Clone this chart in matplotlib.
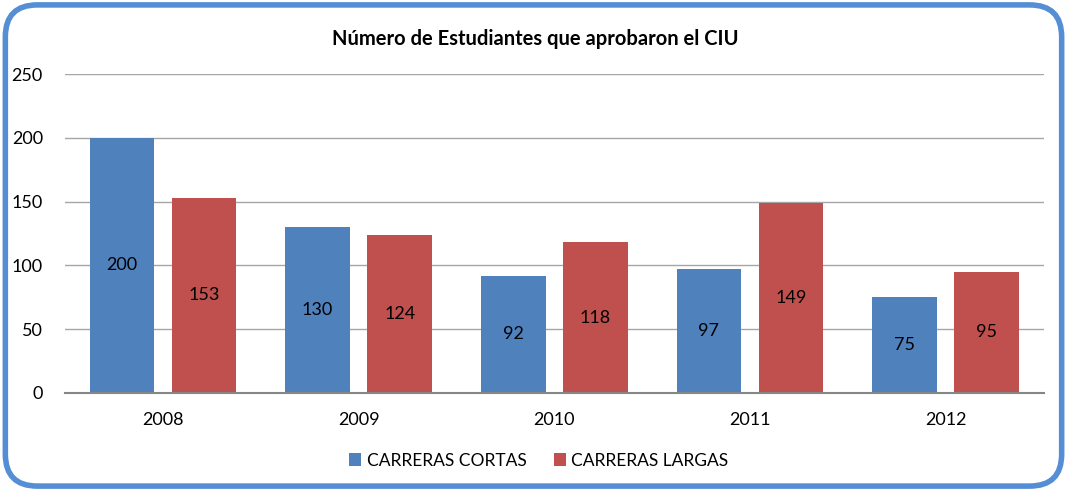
import matplotlib.pyplot as plt
import numpy as np
from matplotlib.patches import FancyBboxPatch

years = ['2008', '2009', '2010', '2011', '2012']
cortas = [200, 130, 92, 97, 75]
largas = [153, 124, 118, 149, 95]

blue = '#4F81BD'
red = '#C0504D'

plt.rcParams['font.family'] = ['Lato', 'DejaVu Sans']

fig = plt.figure(figsize=(10.67, 4.91), dpi=100)
ax = fig.add_axes([0.061, 0.1996, 0.917, 0.6496])

x = np.arange(len(years))
w = 0.33
b1 = ax.bar(x - 0.21, cortas, w, color=blue, label='CARRERAS CORTAS', zorder=2)
b2 = ax.bar(x + 0.21, largas, w, color=red, label='CARRERAS LARGAS', zorder=2)

# labels in the middle of each bar
for bars, vals in [(b1, cortas), (b2, largas)]:
    for r, v in zip(bars, vals):
        ax.text(r.get_x() + r.get_width() / 2, v / 2, str(v), ha='center', va='center',
                fontsize=13, color='black')

ax.set_xlim(-0.5, 4.5)
ax.set_ylim(0, 250)
ax.set_yticks(range(0, 251, 50))
ax.set_xticks(x)
ax.set_xticklabels(years)
ax.tick_params(length=0, labelsize=13, pad=14)
ax.tick_params(axis='y', pad=16)
ax.yaxis.grid(True, color='#A6A6A6', linewidth=1, zorder=0)
for s in ['top', 'right', 'left']:
    ax.spines[s].set_visible(False)
ax.spines['bottom'].set_color('#868686')
ax.spines['bottom'].set_linewidth(1.5)

fig.text(0.502, 0.92, 'Número de Estudiantes que aprobaron el CIU', ha='center', va='center',
         fontsize=14.5, fontweight='bold')

fig.legend(loc='center', bbox_to_anchor=(0.505, 0.062), ncol=2, frameon=False,
           fontsize=12.5, handlelength=0.7, handleheight=0.7, handletextpad=0.3,
           columnspacing=1.6)

border = FancyBboxPatch((0.005, 0.01), 0.99, 0.98, boxstyle='round,pad=0,rounding_size=0.03',
                        transform=fig.transFigure, facecolor='none', edgecolor='#558ED5',
                        linewidth=4, mutation_aspect=1067 / 491)
fig.patches.append(border)

fig.savefig('out.png', dpi=100)
